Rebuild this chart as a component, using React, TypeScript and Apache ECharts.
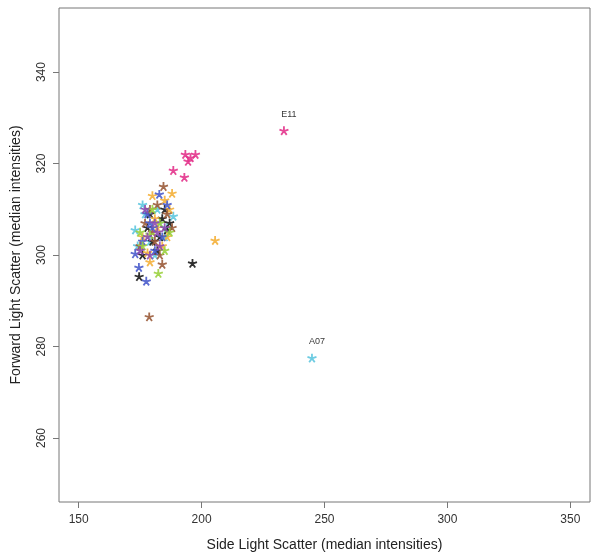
import React, { useEffect, useRef } from "react";
import * as echarts from "echarts";

const xTicks = [150, 200, 250, 300, 350];
const yTicks = [260, 280, 300, 320, 340];

const rowNames = ["A", "B", "C", "D", "E", "F", "G", "H"];
const rowColors = ["#5ec6df", "#1a1a1a", "#f4b03a", "#9a5b3a", "#e3348c", "#4a5ccc", "#9bd13f", "#8b4bb0"];

const rowA = [[176, 311], [188.5, 308.5], [173, 305.5], [181, 300], [183, 307], [179, 303], [185, 304], [177, 309], [182, 310], [174, 302], [186, 306], [244.9, 277.5]];
const rowB = [[196.3, 298.2], [174.6, 295.3], [186, 305.5], [180, 303], [184, 308], [178, 306], [182, 301], [185, 310], [176, 300], [183, 304], [179, 309], [187, 307]];
const rowC = [[205.5, 303.2], [188, 313.5], [180, 313], [187, 310], [184, 302], [178, 300.5], [182, 306], [176, 304], [185, 312], [181, 308], [179, 298.5], [186, 304]];
const rowD = [[178.7, 286.5], [184.5, 315], [184, 298], [182, 311], [177, 307], [186, 309], [180, 305], [175, 302], [183, 300], [179, 310], [188, 306], [181, 303]];
const rowE = [[233.5, 327.2], [193.4, 322], [197.5, 322], [194.5, 320.5], [195.5, 321.3], [188.5, 318.5], [193, 317]];
const rowF = [[173, 300.3], [174.5, 297.3], [177.5, 294.3], [182.8, 313.3], [180, 306], [176, 303], [184, 304], [178, 309], [181, 301], [186, 311], [179, 307]];
const rowG = [[182.4, 296], [176, 302], [179, 304.5], [183, 307], [175, 305], [185, 301], [180, 310], [187, 305]];
const rowH = [[175, 301], [178, 304], [181, 307], [183, 302], [179, 300], [185, 306], [177, 310], [182, 305]];
const rows = [rowA, rowB, rowC, rowD, rowE, rowF, rowG, rowH];

const labelled: Record<string, string> = { "244.9,277.5": "A07", "233.5,327.2": "E11" };

const starPath = "path://M0,0 L0,-10 M0,0 L9.51,-3.09 M0,0 L5.88,8.09 M0,0 L-5.88,8.09 M0,0 L-9.51,-3.09";

export default function App() {
  const ref = useRef<HTMLDivElement>(null);
  useEffect(() => {
    if (!ref.current) return;
    const chart = echarts.init(ref.current, null, { renderer: "svg" });
    const font = "'Liberation Sans', Arial, Helvetica, sans-serif";
    chart.setOption({
      animation: false,
      grid: { left: 58, right: 10, top: 8, bottom: 57, show: true, borderColor: "#777", borderWidth: 1 },
      xAxis: {
        type: "value", min: 142, max: 358,
        axisLine: { show: false }, splitLine: { show: false },
        axisTick: { show: true, customValues: xTicks, length: 6, lineStyle: { color: "#777" } },
        axisLabel: { customValues: xTicks, margin: 11, color: "#333", fontSize: 12, fontFamily: font },
        name: "Side Light Scatter (median intensities)", nameLocation: "middle", nameGap: 35,
        nameTextStyle: { color: "#222", fontSize: 14, fontFamily: font },
      },
      yAxis: {
        type: "value", min: 246, max: 354,
        axisLine: { show: false }, splitLine: { show: false },
        axisTick: { show: true, customValues: yTicks, length: 6, lineStyle: { color: "#777" } },
        axisLabel: { customValues: yTicks, margin: 12, rotate: 90, color: "#333", fontSize: 12, fontFamily: font },
        name: "Forward Light Scatter (median intensities)", nameLocation: "middle", nameGap: 37, nameRotate: 90,
        nameTextStyle: { color: "#222", fontSize: 14, fontFamily: font },
      },
      series: rows.map((r, i) => ({
        type: "scatter",
        name: rowNames[i],
        symbol: starPath,
        symbolSize: 9,
        symbolKeepAspect: true,
        itemStyle: { color: rowColors[i], borderColor: rowColors[i], borderWidth: 1.8, opacity: 0.9 },
        data: r.map((p) => {
          const key = p.join(",");
          const lab = labelled[key];
          if (lab) {
            return {
              value: p,
              label: { show: true, formatter: lab, position: "top", offset: [5, -2], color: "#222", fontSize: 9, fontFamily: font },
            };
          }
          return { value: p };
        }),
      })),
    });
    return () => chart.dispose();
  }, []);
  return <div ref={ref} style={{ position: "fixed", left: 0, top: 0, width: 600, height: 559 }} />;
}
